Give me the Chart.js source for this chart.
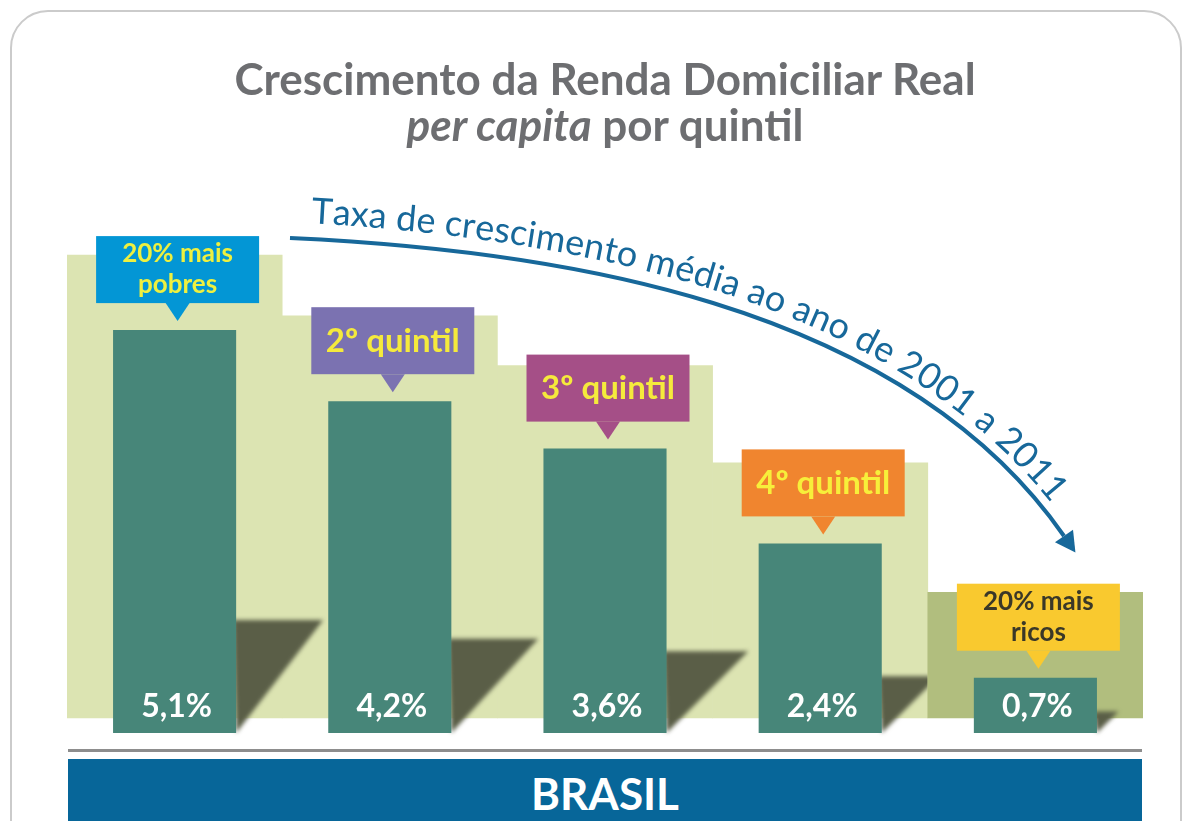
<!DOCTYPE html>
<html>
<head>
<meta charset="UTF-8">
<title>Crescimento da Renda Domiciliar Real per capita por quintil</title>
<script src="https://cdn.jsdelivr.net/npm/chart.js"></script>
<style>
  body { margin: 0; width: 1184px; height: 821px; overflow: hidden; background: #fff; font-family: Lato, sans-serif; position: relative; }
  #card { position: absolute; left: 10px; top: 10px; width: 1172px; height: 900px; border: 2px solid #cbcbcb; border-radius: 38px; box-sizing: border-box; }
  #chart { position: absolute; left: 0; top: 0; }
  h1 { position: absolute; left: 67px; width: 1076px; top: 55px; margin: 0; text-align: center; font-size: 44px; line-height: 46px; color: #6d6e71; font-weight: 700; }
  h1 em { font-style: italic; }
  #rule { position: absolute; left: 68px; width: 1074px; top: 749px; height: 3px; background: #8d8d8d; }
  #band { position: absolute; left: 68px; width: 1074px; top: 759px; height: 70px; background: #076699; color: #fff; font-weight: 700; font-size: 44px; text-align: center; line-height: 68px; }
</style>
</head>
<body>
  <div id="card"></div>
  <canvas id="chart" width="1184" height="821"></canvas>
  <h1>Crescimento da Renda Domiciliar Real<br><em>per capita</em> por quintil</h1>
  <div id="rule"></div>
  <div id="band">BRASIL</div>

<script>
  // dados
  const categories = [['20% mais', 'pobres'], ['2º quintil'], ['3º quintil'], ['4º quintil'], ['20% mais', 'ricos']];
  const growth = [5.1, 4.2, 3.6, 2.4, 0.7];
  // degraus do fundo (barras flutuantes)
  const backdropLight = [[0.19, 6.05], [0.19, 5.28], [0.19, 4.65], [0.19, 3.42], null];
  const backdropDark = [null, null, null, null, [0.19, 1.78]];
  const arrowText = 'Taxa de crescimento média ao ano de 2001 a 2011';

  // estilos
  const calloutColors = ['#0396d5', '#7b72b1', '#a54f87', '#f0852f', '#f9c92f'];
  const calloutTextColors = ['#eef03f', '#f5ea3c', '#f5ea3c', '#f7ef3a', '#3a3828'];

  const fmt = v => v.toFixed(1).replace('.', ',') + '%';

  const shadowPlugin = {
    id: 'shadows',
    afterDatasetDraw(chart, args) {
      if (args.index > 1) return;
      const ctx = chart.ctx;
      const bars = chart.getDatasetMeta(2).data;
      const dark = chart.getDatasetMeta(1).data[4];
      const darkLeft = dark.x - dark.width / 2;
      const idx = args.index === 0 ? [0, 1, 2, 3] : [4];
      ctx.save();
      ctx.fillStyle = '#5a5e47';
      ctx.filter = 'blur(2px)';
      idx.forEach(i => {
        const b = bars[i];
        const right = b.x + b.width / 2;
        const h = b.base - b.y;
        const hs = 7 + 0.263 * h;
        const top = b.base - hs;
        const dx = Math.min(87, hs);
        ctx.save();
        if (args.index === 0) { ctx.beginPath(); ctx.rect(0, 0, darkLeft, chart.height); ctx.clip(); }
        ctx.beginPath();
        ctx.moveTo(right - 3, top);
        ctx.lineTo(right + dx, top);
        ctx.lineTo(right, b.base);
        ctx.closePath();
        ctx.fill();
        ctx.restore();
      });
      ctx.restore();
    }
  };

  const calloutPlugin = {
    id: 'callouts',
    afterDatasetsDraw(chart) {
      const ctx = chart.ctx;
      const bars = chart.getDatasetMeta(2).data;
      bars.forEach((b, i) => {
        const cx = b.x + 3;
        const tip = b.y - 9;
        const bottom = tip - 18;
        const h = 67;
        const w = 163;
        ctx.fillStyle = calloutColors[i];
        ctx.fillRect(cx - w / 2, bottom - h, w, h);
        ctx.beginPath();
        ctx.moveTo(cx - 12, bottom);
        ctx.lineTo(cx + 12, bottom);
        ctx.lineTo(cx, tip);
        ctx.closePath();
        ctx.fill();

        const lines = categories[i];
        const size = lines.length > 1 ? 26 : 33;
        const cap = size * 0.72;
        const mid = bottom - h / 2;
        ctx.fillStyle = calloutTextColors[i];
        ctx.font = `700 ${size}px Lato`;
        ctx.textAlign = 'center';
        ctx.textBaseline = 'alphabetic';
        lines.forEach((t, k) => {
          const y = mid + cap / 2 - 1 + (k - (lines.length - 1) / 2) * 31;
          ctx.fillText(t, cx, y);
        });

        ctx.fillStyle = '#ffffff';
        ctx.font = '700 32px Lato';
        ctx.fillText(fmt(growth[i]), b.x + 2, b.base - 16);
      });
    }
  };

  const arrowPlugin = {
    id: 'arrow',
    afterDraw(chart) {
      const ctx = chart.ctx;
      const P = [[290, 238], [550, 250], [900, 300], [1064, 536]];
      const pt = t => {
        const u = 1 - t;
        const a = u * u * u, b = 3 * u * u * t, c = 3 * u * t * t, d = t * t * t;
        return [a * P[0][0] + b * P[1][0] + c * P[2][0] + d * P[3][0],
                a * P[0][1] + b * P[1][1] + c * P[2][1] + d * P[3][1]];
      };
      const N = 600, pts = [], len = [0];
      for (let k = 0; k <= N; k++) pts.push(pt(k / N));
      for (let k = 1; k <= N; k++) len.push(len[k - 1] + Math.hypot(pts[k][0] - pts[k - 1][0], pts[k][1] - pts[k - 1][1]));
      const L = len[N];
      const at = s => {
        let k = 1;
        while (k < N && len[k] < s) k++;
        const f = (s - len[k - 1]) / (len[k] - len[k - 1] || 1);
        const x = pts[k - 1][0] + f * (pts[k][0] - pts[k - 1][0]);
        const y = pts[k - 1][1] + f * (pts[k][1] - pts[k - 1][1]);
        const ang = Math.atan2(pts[k][1] - pts[k - 1][1], pts[k][0] - pts[k - 1][0]);
        return [x, y, ang];
      };

      ctx.save();
      ctx.strokeStyle = '#17689a';
      ctx.fillStyle = '#17689a';
      ctx.lineWidth = 4;
      ctx.beginPath();
      ctx.moveTo(P[0][0], P[0][1]);
      ctx.bezierCurveTo(P[1][0], P[1][1], P[2][0], P[2][1], P[3][0], P[3][1]);
      ctx.stroke();
      const [ex, ey, ea] = at(L);
      const ux = Math.cos(ea), uy = Math.sin(ea);
      ctx.beginPath();
      ctx.moveTo(ex + ux * 20, ey + uy * 20);
      ctx.lineTo(ex - uy * 11, ey + ux * 11);
      ctx.lineTo(ex + uy * 11, ey - ux * 11);
      ctx.closePath();
      ctx.fill();

      // texto ao longo da curva
      const s0 = 20, s1 = L - 38;
      ctx.font = '400 32px Lato';
      let size = 32 * (s1 - s0) / ctx.measureText(arrowText).width;
      ctx.font = `400 ${size}px Lato`;
      ctx.textAlign = 'left';
      ctx.textBaseline = 'alphabetic';
      let s = s0;
      for (const ch of arrowText) {
        const cw = ctx.measureText(ch).width;
        const [x, y, a] = at(s + cw / 2);
        const off = 16 - 7 * s / L;
        ctx.save();
        ctx.translate(x + Math.sin(a) * off, y - Math.cos(a) * off);
        ctx.rotate(a);
        ctx.fillText(ch, -cw / 2, 0);
        ctx.restore();
        s += cw;
      }
      ctx.restore();
    }
  };

  new Chart(document.getElementById('chart'), {
    type: 'bar',
    data: {
      labels: categories,
      datasets: [
        { data: backdropLight, backgroundColor: '#dce4b2', barPercentage: 1, categoryPercentage: 1, grouped: false, order: 3 },
        { data: backdropDark, backgroundColor: '#b1be7e', barPercentage: 1, categoryPercentage: 1, grouped: false, order: 2 },
        { data: growth, backgroundColor: '#478679', barPercentage: 0.572, categoryPercentage: 1, grouped: false, order: 1 }
      ]
    },
    options: {
      responsive: false,
      animation: false,
      layout: { padding: { left: 67, right: 41, top: 180, bottom: 88 } },
      plugins: { legend: { display: false }, tooltip: { enabled: false } },
      scales: {
        x: { display: false },
        y: { display: false, min: 0, max: 7 }
      }
    },
    plugins: [shadowPlugin, calloutPlugin, arrowPlugin]
  });
</script>
</body>
</html>
